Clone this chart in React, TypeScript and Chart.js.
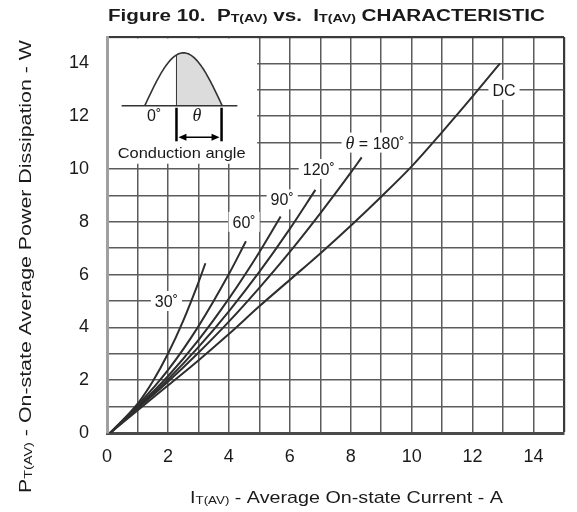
import React, { useEffect, useRef } from 'react';
import { Chart, registerables } from 'chart.js';

Chart.register(...registerables);

// ---------- data ----------
const X_TICK_LABELS = [0, 2, 4, 6, 8, 10, 12, 14];
const Y_TICK_LABELS = [0, 2, 4, 6, 8, 10, 12, 14];
const X_MAX = 15;
const Y_MAX = 15;

const DC_I = [0.1, 1, 2, 3, 4, 5, 6, 7, 8, 9, 10, 11, 12, 12.9];
const DC_P = [0, 0.85, 1.8, 2.75, 3.75, 4.8, 5.8, 6.8, 7.85, 8.95, 10.1, 11.4, 12.75, 14.0];

const A180_I = [0.1, 1, 2, 3, 4, 5, 6, 7, 8, 8.36];
const A180_P = [0, 0.92, 1.94, 3.04, 4.22, 5.5, 6.86, 8.32, 9.86, 10.44];

const A120_I = [0.1, 1, 2, 3, 4, 5, 6, 6.84];
const A120_P = [0, 0.95, 2.03, 3.25, 4.61, 6.1, 7.73, 9.21];

const A90_I = [0.1, 1, 2, 3, 4, 5, 5.7];
const A90_P = [0, 0.98, 2.15, 3.52, 5.09, 6.85, 8.2];

const A60_I = [0.1, 1, 2, 3, 4, 4.56];
const A60_P = [0, 1.04, 2.38, 4.04, 6.02, 7.26];

const A30_I = [0.1, 1, 1.5, 2, 2.5, 3, 3.23];
const A30_P = [0, 1.1, 1.95, 3.0, 4.25, 5.7, 6.43];

const SERIES_NAMES = ['DC', '180', '120', '90', '60', '30'];
const SERIES_I = [DC_I, A180_I, A120_I, A90_I, A60_I, A30_I];
const SERIES_P = [DC_P, A180_P, A120_P, A90_P, A60_P, A30_P];

// curve annotations (data coordinates)
const CURVE_LABELS = ['30˚', '60˚', '90˚', '120˚', 'θ = 180˚', 'DC'];
const CURVE_LABEL_X = [1.95, 4.5, 5.75, 6.95, 8.8, 13.03];
const CURVE_LABEL_Y = [5, 8, 8.85, 10, 11, 13];

// inset illustration (data coordinates)
const INSET_BOX = { x0: 0, x1: 4.93, y0: 10.2, y1: 15 };
const WAVE = { baseY: 12.4, baseX0: 0.48, baseX1: 4.28, humpX0: 1.24, humpX1: 3.78, peakY: 14.4, fireX: 2.28 };

const FONT = '"Liberation Sans", Arial, Helvetica, sans-serif';
const SERIF = '"Liberation Serif", "Times New Roman", serif';

type Seg = { t: string; size: number; weight?: string; style?: string; family?: string; dy?: number };

function segFont(s: Seg) {
  return `${s.style || 'normal'} ${s.weight || 'normal'} ${s.size}px ${s.family || FONT}`;
}

function measure(ctx: CanvasRenderingContext2D, segs: Seg[]) {
  let w = 0;
  for (const s of segs) {
    ctx.font = segFont(s);
    w += ctx.measureText(s.t).width;
  }
  return w;
}

function drawRich(
  ctx: CanvasRenderingContext2D,
  segs: Seg[],
  cx: number,
  baseline: number,
  rot: number,
  targetWidth?: number
) {
  const w = measure(ctx, segs);
  const sx = targetWidth ? targetWidth / w : 1;
  ctx.save();
  ctx.translate(cx, baseline);
  if (rot) ctx.rotate(rot);
  ctx.scale(sx, 1);
  ctx.textAlign = 'left';
  ctx.textBaseline = 'alphabetic';
  ctx.fillStyle = '#1a1a1a';
  let x = -w / 2;
  for (const s of segs) {
    ctx.font = segFont(s);
    ctx.fillText(s.t, x, s.dy || 0);
    x += ctx.measureText(s.t).width;
  }
  ctx.restore();
}

const decorPlugin = {
  id: 'decor',
  afterDatasetsDraw(chart: any) {
    const ctx: CanvasRenderingContext2D = chart.ctx;
    const xs = chart.scales.x;
    const ys = chart.scales.y;
    const px = (v: number) => xs.getPixelForValue(v);
    const py = (v: number) => ys.getPixelForValue(v);
    const area = chart.chartArea;

    // ---- curve labels with white boxes ----
    for (let k = 0; k < CURVE_LABELS.length; k++) {
      const lab = CURVE_LABELS[k];
      const cx = px(CURVE_LABEL_X[k]);
      const cy = py(CURVE_LABEL_Y[k]);
      let segs: Seg[];
      if (lab.startsWith('θ')) {
        segs = [
          { t: 'θ', size: 18, style: 'italic', family: SERIF },
          { t: lab.slice(1), size: 16 },
        ];
      } else {
        segs = [{ t: lab, size: 16 }];
      }
      const w = measure(ctx, segs);
      ctx.fillStyle = '#ffffff';
      ctx.fillRect(cx - w / 2 - 4, cy - 10, w + 8, 20);
      drawRich(ctx, segs, cx, cy + 6, 0);
    }

    // ---- inset ----
    ctx.save();
    ctx.fillStyle = '#ffffff';
    const bx0 = Math.max(px(INSET_BOX.x0), area.left + 2);
    const by0 = Math.max(py(INSET_BOX.y1), area.top + 1.5);
    ctx.fillRect(bx0, by0, px(INSET_BOX.x1) - bx0, py(INSET_BOX.y0) - by0);

    const hx = (t: number) => WAVE.humpX0 + (WAVE.humpX1 - WAVE.humpX0) * t;
    const hy = (t: number) => WAVE.baseY + (WAVE.peakY - WAVE.baseY) * Math.sin(Math.PI * t);
    const tFire = (WAVE.fireX - WAVE.humpX0) / (WAVE.humpX1 - WAVE.humpX0);
    const N = 80;

    // shaded conduction region
    ctx.beginPath();
    ctx.moveTo(px(WAVE.fireX), py(WAVE.baseY));
    for (let i = 0; i <= N; i++) {
      const t = tFire + (1 - tFire) * (i / N);
      ctx.lineTo(px(hx(t)), py(hy(t)));
    }
    ctx.closePath();
    ctx.fillStyle = '#dcdcdc';
    ctx.fill();

    // baseline
    ctx.strokeStyle = '#333';
    ctx.lineWidth = 1.5;
    ctx.beginPath();
    ctx.moveTo(px(WAVE.baseX0), py(WAVE.baseY));
    ctx.lineTo(px(WAVE.baseX1), py(WAVE.baseY));
    ctx.stroke();

    // half sine
    ctx.lineWidth = 1.6;
    ctx.beginPath();
    for (let i = 0; i <= N; i++) {
      const t = i / N;
      if (i === 0) ctx.moveTo(px(hx(t)), py(hy(t)));
      else ctx.lineTo(px(hx(t)), py(hy(t)));
    }
    ctx.stroke();

    // firing line
    ctx.lineWidth = 1;
    ctx.beginPath();
    ctx.moveTo(px(WAVE.fireX), py(WAVE.baseY));
    ctx.lineTo(px(WAVE.fireX), py(hy(tFire)));
    ctx.stroke();

    // markers
    ctx.strokeStyle = '#000';
    ctx.lineWidth = 2.5;
    const mx1 = WAVE.fireX;
    const mx2 = WAVE.humpX1 - 0.02;
    for (const m of [mx1, mx2]) {
      ctx.beginPath();
      ctx.moveTo(px(m), py(12.32));
      ctx.lineTo(px(m), py(11.05));
      ctx.stroke();
    }
    // double arrow
    const ay = py(11.2);
    const ax1 = px(mx1) + 2;
    const ax2 = px(mx2) - 2;
    ctx.lineWidth = 1.5;
    ctx.beginPath();
    ctx.moveTo(ax1 + 4, ay);
    ctx.lineTo(ax2 - 4, ay);
    ctx.stroke();
    ctx.fillStyle = '#000';
    ctx.beginPath();
    ctx.moveTo(ax1, ay);
    ctx.lineTo(ax1 + 8, ay - 3.5);
    ctx.lineTo(ax1 + 8, ay + 3.5);
    ctx.closePath();
    ctx.fill();
    ctx.beginPath();
    ctx.moveTo(ax2, ay);
    ctx.lineTo(ax2 - 8, ay - 3.5);
    ctx.lineTo(ax2 - 8, ay + 3.5);
    ctx.closePath();
    ctx.fill();
    ctx.restore();

    drawRich(ctx, [{ t: '0˚', size: 16 }], px(1.55), py(11.8), 0);
    drawRich(ctx, [{ t: 'θ', size: 18, style: 'italic', family: SERIF }], px(2.95), py(11.8), 0);
    drawRich(ctx, [{ t: 'Conduction angle', size: 15 }], px(2.45), py(10.4), 0, 128);

    // ---- titles ----
    drawRich(
      ctx,
      [
        { t: 'Figure 10.  P', size: 16, weight: 'bold' },
        { t: 'T(AV)', size: 11, weight: 'bold', dy: 1 },
        { t: ' vs.  I', size: 16, weight: 'bold' },
        { t: 'T(AV)', size: 11, weight: 'bold', dy: 1 },
        { t: ' CHARACTERISTIC', size: 16, weight: 'bold' },
      ],
      326.5,
      20.7,
      0,
      437
    );
    drawRich(
      ctx,
      [
        { t: 'I', size: 17 },
        { t: 'T(AV)', size: 11.5, dy: 1 },
        { t: ' - Average On-state Current - A', size: 17 },
      ],
      346.5,
      503,
      0,
      313
    );
    drawRich(
      ctx,
      [
        { t: 'P', size: 17 },
        { t: 'T(AV)', size: 11.5, dy: 1 },
        { t: ' - On-state Average Power Dissipation - W', size: 17 },
      ],
      30.5,
      266.5,
      -Math.PI / 2,
      453
    );
  },
};

export default function App() {
  const ref = useRef<HTMLCanvasElement | null>(null);

  useEffect(() => {
    document.body.style.margin = '0';
    const canvas = ref.current;
    if (!canvas) return;

    const datasets = SERIES_NAMES.map((name, k) => ({
      label: name,
      data: SERIES_I[k].map((x, j) => ({ x, y: SERIES_P[k][j] })),
      showLine: true,
      borderColor: '#2e2e2e',
      borderWidth: 2,
      pointRadius: 0,
      pointHoverRadius: 0,
      cubicInterpolationMode: 'monotone' as const,
      fill: false,
    }));

    const gridColor = (c: any) => {
      const v = c.tick ? c.tick.value : null;
      if (v === 0) return 'rgba(0,0,0,0)';
      if (v === 15) return '#3a3a3a';
      return '#5c5c5c';
    };
    const gridWidth = (c: any) => {
      const v = c.tick ? c.tick.value : null;
      if (v === 15) return 2.2;
      return 1.5;
    };

    const chart = new Chart(canvas, {
      type: 'scatter',
      data: { datasets },
      options: {
        animation: false,
        responsive: false,
        devicePixelRatio: 1,
        events: [],
        layout: { padding: { left: 0, right: 10, top: 37, bottom: 0 } },
        plugins: {
          legend: { display: false },
          tooltip: { enabled: false },
          title: { display: false },
        },
        scales: {
          x: {
            type: 'linear',
            min: 0,
            max: X_MAX,
            afterFit: (s: any) => {
              s.height = 79;
            },
            ticks: {
              stepSize: 1,
              autoSkip: false,
              maxRotation: 0,
              padding: 13,
              color: '#1a1a1a',
              font: { family: FONT, size: 18 },
              callback: (v: any) => (X_TICK_LABELS.includes(Number(v)) ? String(v) : ''),
            },
            grid: { drawTicks: false, color: gridColor, lineWidth: gridWidth },
            border: { color: '#4a4a4a', width: 3 },
          },
          y: {
            type: 'linear',
            min: 0,
            max: Y_MAX,
            afterFit: (s: any) => {
              s.width = 107;
            },
            ticks: {
              stepSize: 1,
              autoSkip: false,
              padding: 18,
              color: '#1a1a1a',
              font: { family: FONT, size: 18 },
              callback: (v: any) => (Y_TICK_LABELS.includes(Number(v)) ? String(v) : ''),
            },
            grid: { drawTicks: false, color: gridColor, lineWidth: gridWidth },
            border: { color: '#a0a0a0', width: 3 },
          },
        },
      },
      plugins: [decorPlugin],
    } as any);

    return () => {
      chart.destroy();
    };
  }, []);

  return <canvas ref={ref} width={577} height={512} style={{ display: 'block' }} />;
}
